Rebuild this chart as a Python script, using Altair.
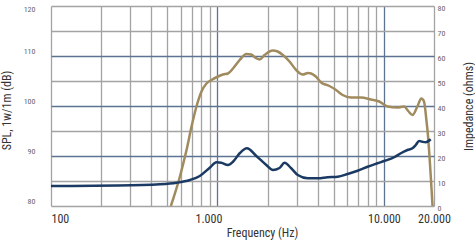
import altair as alt
import pandas as pd

# SPL curve (Hz, dB)
spl_freq = [525, 594, 652, 700, 748, 802, 859, 920, 1008, 1080, 1156, 1240, 1360, 1492, 1596,
            1700, 1792, 1920, 2057, 2150, 2300, 2472, 2710, 2972, 3255, 3500, 3655, 3900, 4196,
            4706, 5160, 5650, 6345, 7282, 8356, 9377, 10510, 12060, 13230, 14000, 14840, 15890,
            16790, 17420, 18000, 18270, 19600]
spl_db = [80.0, 85.8, 91.2, 96.0, 99.9, 102.9, 104.5, 105.2, 105.9, 106.3, 106.5, 107.5, 109.2, 110.4, 110.3,
          109.6, 109.3, 110.2, 110.9, 111.1, 110.9, 110.2, 108.9, 107.2, 106.3, 106.6, 106.5, 105.9, 104.7,
          104.0, 103.2, 102.2, 101.7, 101.7, 101.3, 100.9, 99.9, 99.7, 99.9, 99.0, 98.2, 99.9,
          101.5, 100.9, 97.2, 95.2, 80.0]

# Impedance curve (Hz, ohms)
imp_freq = [100, 250, 451, 568, 683, 783, 899, 986, 1055, 1156, 1240, 1360, 1504, 1712, 1965,
            2153, 2360, 2530, 2774, 3038, 3487, 4004, 4596, 5276, 6057, 6950, 7977, 9157, 10040,
            11530, 12640, 13850, 14840, 15540, 16270, 17000, 17840, 19110]
imp_ohm = [8.0, 8.2, 8.7, 9.3, 10.4, 12.0, 15.3, 17.5, 17.3, 16.4, 17.7, 21.1, 23.1, 20.0, 16.4,
           14.4, 15.2, 17.3, 15.1, 12.4, 11.1, 11.1, 11.5, 11.7, 12.8, 14.1, 15.7, 17.1, 18.0,
           19.5, 21.1, 22.4, 23.1, 24.4, 26.0, 25.7, 25.5, 26.7]

# axes
x_grid = [100, 200, 300, 400, 500, 600, 700, 800, 900,
          1000, 2000, 3000, 4000, 5000, 6000, 7000, 8000, 9000, 10000, 20000]
x_label_values = [100, 1000, 10000, 20000]
x_label_texts = ["100", "1.000", "10.000", "20.000"]
spl_ticks = [80, 85, 90, 95, 100, 105, 110, 115, 120]
imp_ticks = [0, 10, 20, 30, 40, 50, 60, 70, 80]

FONT = "Liberation Sans Narrow, Roboto Condensed, DejaVu Sans Condensed, Liberation Sans, sans-serif"
GRID_GRAY = "#a3a3a3"
GRID_BLUE = "#5c7391"

spl_df = pd.DataFrame({"f": spl_freq, "v": spl_db})
imp_df = pd.DataFrame({"f": imp_freq, "v": imp_ohm})

label_expr = " : ".join(
    [f"datum.value == {v} ? '{t}'" for v, t in zip(x_label_values, x_label_texts)]
) + " : ''"

x_axis = alt.Axis(
    values=x_grid,
    title="Frequency (Hz)",
    grid=True,
    gridColor={"condition": {"test": "datum.value == 1000 || datum.value == 10000", "value": GRID_BLUE},
               "value": GRID_GRAY},
    gridWidth=1.3,
    domain=False,
    ticks=False,
    labelExpr=label_expr,
    labelOverlap=False,
    labelAlign={"condition": {"test": "datum.value == 100", "value": "left"}, "value": "center"},
    labelOffset={"condition": {"test": "datum.value == 1000", "value": -9}, "value": 0},
    labelPadding=7,
    labelFont=FONT,
    labelFontSize=12,
    labelColor="#333333",
    labelFlush=False,
    titleFont=FONT,
    titleFontSize=12,
    titleFontWeight="normal",
    titleColor="#333333",
    titleX=211,
    titleY=26,
    titleAlign="center",
    titleBaseline="middle",
)

x_scale = alt.Scale(type="log", domain=[100, 20000], nice=False)

spl_line = alt.Chart(spl_df).mark_line(
    color="#a08b5e", strokeWidth=2.5, interpolate="monotone", clip=True
).encode(
    x=alt.X("f:Q", scale=x_scale, axis=x_axis),
    y=alt.Y("v:Q",
            scale=alt.Scale(domain=[80, 120], nice=False, zero=False),
            axis=alt.Axis(
                values=spl_ticks,
                title="SPL, 1w/1m (dB)",
                grid=True,
                gridColor={"condition": {"test": "datum.value == 90 || datum.value == 100 || datum.value == 110",
                                         "value": GRID_BLUE},
                           "value": GRID_GRAY},
                gridWidth=1.3,
                domain=False,
                ticks=False,
                labelExpr="datum.value % 10 == 0 ? datum.label : ''",
                labelOverlap=False,
                labelPadding=16,
                labelFont=FONT,
                labelFontSize=8,
                labelColor="#666666",
                labelOffset={"condition": {"test": "datum.value == 120", "value": 3}, "value": -5},
                titleFont=FONT,
                titleFontSize=12,
                titleFontWeight="normal",
                titleColor="#333333",
                titleX=-45,
                titleY=104,
                titleAlign="center",
                titleBaseline="middle",
            )),
)

imp_line = alt.Chart(imp_df).mark_line(
    color="#1b3a63", strokeWidth=2.5, interpolate="monotone", clip=True
).encode(
    x=alt.X("f:Q", scale=x_scale, axis=x_axis),
    y=alt.Y("v:Q",
            scale=alt.Scale(domain=[0, 80], nice=False),
            axis=alt.Axis(
                orient="right",
                values=imp_ticks,
                title="Impedance (ohms)",
                grid=False,
                domain=False,
                ticks=False,
                labelPadding=3,
                labelOverlap=False,
                labelFont=FONT,
                labelFontSize=8,
                labelColor="#666666",
                labelOffset=2,
                titleFont=FONT,
                titleFontSize=12,
                titleFontWeight="normal",
                titleColor="#333333",
                titleAngle=270,
                titleX=34,
                titleY=100,
                titleAlign="center",
                titleBaseline="middle",
            )),
)

chart = alt.layer(spl_line, imp_line).resolve_scale(y="independent").properties(
    width=383,
    height=200,
    padding={"left": 51, "top": 6, "right": 41, "bottom": 35},
    autosize=alt.AutoSizeParams(type="none"),
    background="white",
).configure_view(stroke=None)

chart.save("out.html", embed_options={"renderer": "svg", "actions": False})
